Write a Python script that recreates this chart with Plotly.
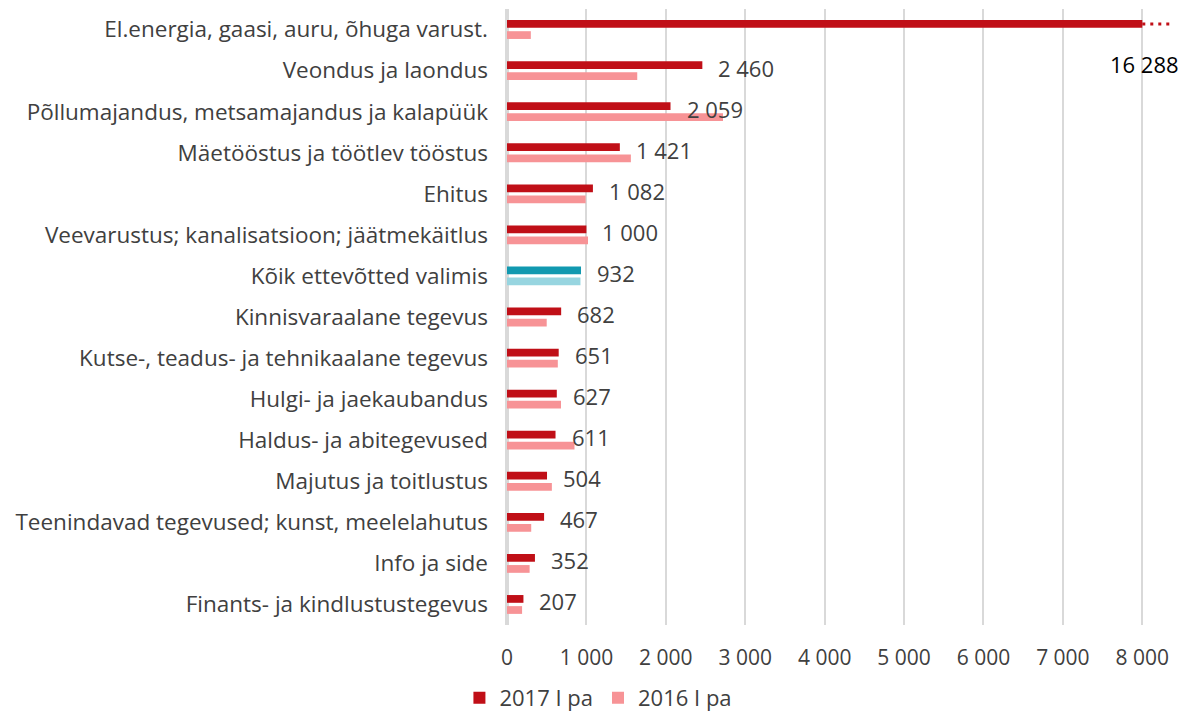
import plotly.graph_objects as go

# ---------- DATA ----------
categories = [
    "El.energia, gaasi, auru, õhuga varust.",
    "Veondus ja laondus",
    "Põllumajandus, metsamajandus ja kalapüük",
    "Mäetööstus ja töötlev tööstus",
    "Ehitus",
    "Veevarustus; kanalisatsioon; jäätmekäitlus",
    "Kõik ettevõtted valimis",
    "Kinnisvaraalane tegevus",
    "Kutse-, teadus- ja tehnikaalane tegevus",
    "Hulgi- ja jaekaubandus",
    "Haldus- ja abitegevused",
    "Majutus ja toitlustus",
    "Teenindavad tegevused; kunst, meelelahutus",
    "Info ja side",
    "Finants- ja kindlustustegevus",
]
values_2017 = [16288, 2460, 2059, 1421, 1082, 1000, 932, 682, 651, 627, 611, 504, 467, 352, 207]
values_2016 = [300, 1640, 2720, 1560, 990, 1020, 925, 500, 640, 680, 850, 565, 305, 285, 190]
axis_cap = 8000
highlight = "Kõik ettevõtted valimis"

RED, PINK = "#C00F17", "#F79396"
TEAL, LTEAL = "#1199B0", "#97D5E0"
TXT = "#404040"
FONT = "Open Sans"


def fmt(v):
    return f"{v:,}".replace(",", " ")


shown_2017 = [min(v, axis_cap) for v in values_2017]
c17 = [TEAL if c == highlight else RED for c in categories]
c16 = [LTEAL if c == highlight else PINK for c in categories]

fig = go.Figure()
fig.add_trace(go.Bar(y=categories, x=shown_2017, orientation="h", name="2017 I pa",
                     marker=dict(color=c17, line=dict(width=0)), hoverinfo="skip"))
fig.add_trace(go.Bar(y=categories, x=values_2016, orientation="h", name="2016 I pa",
                     marker=dict(color=c16, line=dict(width=0)), hoverinfo="skip"))

bargap, bargroupgap = 0.46, 0.3
off17 = -(1 - bargap) / 4

# value labels
for i, (cat, v, s) in enumerate(zip(categories, values_2017, shown_2017)):
    if v > axis_cap:
        # broken bar: dotted tail + label below
        fig.add_shape(type="line", xref="x", yref="y", x0=axis_cap, x1=axis_cap * 1.046,
                      y0=i + off17, y1=i + off17,
                      line=dict(color=RED, width=3, dash="3px,5px"))
        fig.add_annotation(x=axis_cap, y=cat, text=fmt(v), showarrow=False,
                           xanchor="center", yshift=-34, xshift=2,
                           font=dict(family=FONT, size=22, color="#000000"))
    else:
        fig.add_annotation(x=s, y=cat, text=fmt(v), showarrow=False,
                           xanchor="left", xshift=14, yshift=3,
                           font=dict(family=FONT, size=22, color=TXT))

fig.update_layout(
    width=1185, height=715,
    paper_bgcolor="white", plot_bgcolor="white",
    barmode="group", bargap=bargap, bargroupgap=bargroupgap,
    margin=dict(l=507, r=3, t=9, b=90),
    font=dict(family=FONT, size=21, color=TXT),
    showlegend=True,
    legend=dict(orientation="h", xref="container", x=0.505, xanchor="center",
                yref="container", y=0.024, yanchor="middle",
                font=dict(family=FONT, size=22, color=TXT), traceorder="normal"),
    xaxis=dict(range=[0, 8500], tickvals=list(range(0, 8001, 1000)),
               ticktext=[fmt(t) for t in range(0, 8001, 1000)],
               showgrid=True, gridcolor="#D9D9D9", gridwidth=2,
               zeroline=True, zerolinecolor="#D9D9D9", zerolinewidth=4,
               ticks="", ticklabelstandoff=18, tickfont=dict(size=21),
               automargin=False),
    yaxis=dict(range=[len(categories) - 0.5, -0.5], showgrid=False, ticks="",
               ticklabelstandoff=18, tickfont=dict(size=22.5), automargin=False),
)

fig.write_html("out.html", config={"displayModeBar": False},
               post_script="document.body.style.margin='0';")
